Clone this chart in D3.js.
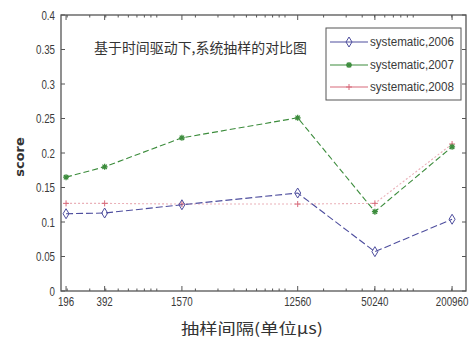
<!DOCTYPE html>
<html><head><meta charset="utf-8">
<script src="https://cdn.jsdelivr.net/npm/d3@7"></script>
<style>body{margin:0;background:#fff}svg{display:block}</style>
</head><body>
<script>
const intervals = [196, 392, 1570, 12560, 50240, 200960];
const tickLabels = ["196", "392", "1570", "12560", "50240", "200960"];
const s2006 = [0.112, 0.113, 0.125, 0.142, 0.057, 0.104];
const s2007 = [0.165, 0.180, 0.222, 0.251, 0.115, 0.209];
const s2008 = [0.127, 0.127, 0.126, 0.126, 0.127, 0.213];
const yTicks = [0, 0.05, 0.1, 0.15, 0.2, 0.25, 0.3, 0.35, 0.4];
const yTickLabels = ["0", "0.05", "0.1", "0.15", "0.2", "0.25", "0.3", "0.35", "0.4"];
const seriesNames = ["systematic,2006", "systematic,2007", "systematic,2008"];
const titleText = "基于时间驱动下,系统抽样的对比图";
const xTitle = "抽样间隔(单位μs)";
const yTitle = "score";

const W = 473, H = 339;
const L = 61, R = 466, T = 15, B = 291;
const svg = d3.select("body").append("svg").attr("width", W).attr("height", H);
const x = d3.scaleLog().domain([179, 258000]).range([L, R]);
const y = d3.scaleLinear().domain([0, 0.4]).range([B, T]);
const axisCol = "#555";
const txtCol = "#3a3a3a";
const narrow = "Liberation Sans, Arial, sans-serif";

svg.append("rect").attr("x", L).attr("y", T).attr("width", R - L).attr("height", B - T)
  .attr("fill", "none").attr("stroke", axisCol).attr("stroke-width", 1.3);

const minor = x.ticks().filter(v => v >= 179 && v <= 258000);
const g = svg.append("g").attr("stroke", axisCol).attr("stroke-width", 1);
minor.forEach(v => {
  g.append("line").attr("x1", x(v)).attr("x2", x(v)).attr("y1", B).attr("y2", B - 2.5);
  g.append("line").attr("x1", x(v)).attr("x2", x(v)).attr("y1", T).attr("y2", T + 2.5);
});
intervals.forEach(v => {
  g.append("line").attr("x1", x(v)).attr("x2", x(v)).attr("y1", B).attr("y2", B - 5);
  g.append("line").attr("x1", x(v)).attr("x2", x(v)).attr("y1", T).attr("y2", T + 5);
});
yTicks.forEach(v => {
  g.append("line").attr("x1", L).attr("x2", L + 4).attr("y1", y(v)).attr("y2", y(v));
  g.append("line").attr("x1", R).attr("x2", R - 4).attr("y1", y(v)).attr("y2", y(v));
});

intervals.forEach((v, i) => {
  svg.append("text").attr("transform", `translate(${x(v)},${B + 15}) scale(0.78,1)`)
    .attr("text-anchor", "middle").attr("font-family", narrow).attr("font-size", 12.5)
    .attr("fill", txtCol).text(tickLabels[i]);
});
yTicks.forEach((v, i) => {
  svg.append("text").attr("transform", `translate(${L - 6},${y(v) + 4.5}) scale(0.75,1)`)
    .attr("text-anchor", "end").attr("font-family", narrow).attr("font-size", 13)
    .attr("fill", txtCol).text(yTickLabels[i]);
});

svg.append("text").attr("x", 252).attr("y", 334).attr("text-anchor", "middle")
  .attr("textLength", 142).attr("lengthAdjust", "spacingAndGlyphs")
  .attr("font-family", "Noto Sans CJK SC, sans-serif").attr("font-size", 15)
  .attr("fill", "#333").text(xTitle);
svg.append("text").attr("transform", `translate(24,157) rotate(-90)`).attr("text-anchor", "middle")
  .attr("font-family", "DejaVu Sans, sans-serif").attr("font-weight", "bold").attr("font-size", 13)
  .attr("fill", "#333").text(yTitle);

svg.append("text").attr("x", 94).attr("y", 53).attr("textLength", 213).attr("lengthAdjust", "spacingAndGlyphs")
  .attr("font-family", "Noto Sans CJK SC, sans-serif").attr("font-size", 13.5)
  .attr("fill", "#333").text(titleText);

const colors = ["#4e4e9e", "#3c8c3c", "#d86a7a"];
const lineCols = ["#4e4e9e", "#3c8c3c", "#eab0b8"];
const dashes = ["7,3", "6,3", "2,2"];
const data = [s2006, s2007, s2008];
const line = d3.line().x(d => x(d[0])).y(d => y(d[1]));

function marker(sel, k, cx, cy) {
  const c = colors[k];
  if (k === 0) {
    sel.append("path").attr("d", `M${cx},${cy - 5}L${cx + 3},${cy}L${cx},${cy + 5}L${cx - 3},${cy}Z`)
      .attr("fill", "none").attr("stroke", c).attr("stroke-width", 1);
  } else if (k === 1) {
    sel.append("path").attr("d", `M${cx - 3},${cy}L${cx + 3},${cy}M${cx},${cy - 3}L${cx},${cy + 3}M${cx - 2.2},${cy - 2.2}L${cx + 2.2},${cy + 2.2}M${cx - 2.2},${cy + 2.2}L${cx + 2.2},${cy - 2.2}`)
      .attr("stroke", c).attr("stroke-width", 1.3);
  } else {
    sel.append("path").attr("d", `M${cx - 3},${cy}L${cx + 3},${cy}M${cx},${cy - 3}L${cx},${cy + 3}`)
      .attr("stroke", c).attr("stroke-width", 1);
  }
}

[2, 0, 1].forEach(k => {
  const pts = intervals.map((v, i) => [v, data[k][i]]);
  svg.append("path").attr("d", line(pts)).attr("fill", "none")
    .attr("stroke", lineCols[k]).attr("stroke-width", 1.1).attr("stroke-dasharray", dashes[k]);
  const mg = svg.append("g");
  pts.forEach(p => marker(mg, k, x(p[0]), y(p[1])));
});

svg.append("rect").attr("x", 326).attr("y", 28).attr("width", 135).attr("height", 72)
  .attr("fill", "#fff").attr("stroke", axisCol).attr("stroke-width", 1);
const ly = [42, 65, 87];
seriesNames.forEach((nm, k) => {
  svg.append("line").attr("x1", 330).attr("x2", 368).attr("y1", ly[k]).attr("y2", ly[k])
    .attr("stroke", colors[k]).attr("stroke-width", 1.1);
  marker(svg, k, 349, ly[k]);
  svg.append("text").attr("x", 370).attr("y", ly[k] + 4).attr("textLength", 84)
    .attr("lengthAdjust", "spacingAndGlyphs").attr("font-family", narrow).attr("font-size", 12.5)
    .attr("fill", txtCol).text(nm);
});
</script>
</body></html>
